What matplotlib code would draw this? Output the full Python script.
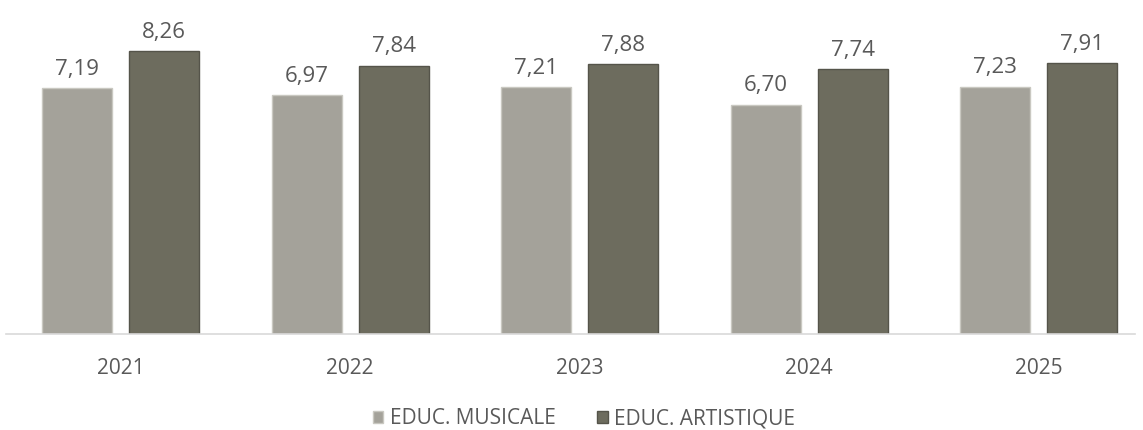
import numpy as np
import matplotlib.pyplot as plt
from matplotlib.patches import Patch

years = ['2021', '2022', '2023', '2024', '2025']
musicale = [7.19, 6.97, 7.21, 6.70, 7.23]
artistique = [8.26, 7.84, 7.88, 7.74, 7.91]

plt.rcParams['font.family'] = ['Open Sans', 'DejaVu Sans']
txt = '#595959'
c_mus = '#a4a29a'
c_art = '#6d6c5e'

fig = plt.figure(figsize=(11.43, 4.30), dpi=100)
ax = fig.add_axes([6 / 1143, 96 / 430, 1129 / 1143, 308 / 430])

x = np.arange(len(years))
w = 0.305
off = 0.19
b1 = ax.bar(x - off, musicale, w, color=c_mus, edgecolor='#c9c8c1', linewidth=1)
b2 = ax.bar(x + off, artistique, w, color=c_art, edgecolor='#55544a', linewidth=1)

for bars, vals in ((b1, musicale), (b2, artistique)):
    for b, v in zip(bars, vals):
        ax.annotate(f'{v:.2f}'.replace('.', ','), (b.get_x() + b.get_width() / 2, v),
                    xytext=(0, 6), textcoords='offset points', ha='center', va='bottom',
                    fontsize=16, color=txt)

ax.set_xlim(-0.5, 4.42)
ax.set_ylim(0, 9)
ax.set_xticks(x)
ax.set_xticklabels(years, fontsize=15, color=txt)
ax.tick_params(axis='x', length=0, pad=17)
ax.set_yticks([])
for s in ['top', 'left', 'right']:
    ax.spines[s].set_visible(False)
ax.spines['bottom'].set_color('#d9d9d9')
ax.spines['bottom'].set_linewidth(1.2)

handles = [Patch(facecolor=c_mus, edgecolor='#c9c8c1', label='EDUC. MUSICALE'),
           Patch(facecolor=c_art, edgecolor='#55544a', label='EDUC. ARTISTIQUE')]
fig.legend(handles=handles, loc='center', bbox_to_anchor=(584 / 1143, 11 / 430), ncol=2,
           frameon=False, fontsize=15, labelcolor=txt, handlelength=0.5, handleheight=0.5,
           handletextpad=0.3, columnspacing=2.0)

fig.savefig('out.png', dpi=100)
